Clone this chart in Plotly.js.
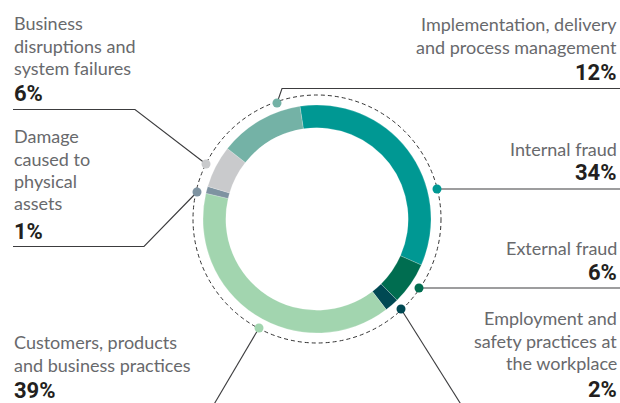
<!DOCTYPE html>
<html>
<head>
<meta charset="utf-8">
<script src="https://cdn.plot.ly/plotly-3.0.1.min.js"></script>
<style>html,body{margin:0;padding:0;background:#fff;}#chart{width:620px;height:403px;}</style>
</head>
<body>
<div id="chart"></div>
<script>
// ---- data ----
const categories = [
  'Internal fraud',
  'External fraud',
  'Employment and safety practices at the workplace',
  'Customers, products and business practices',
  'Damage caused to physical assets',
  'Business disruptions and system failures',
  'Implementation, delivery and process management'
];
const values = [34, 6, 2, 39, 1, 6, 12];
// label text as printed (one entry per printed line)
const labelLines = [
  ['Internal fraud'],
  ['External fraud'],
  ['Employment and', 'safety practices at', 'the workplace'],
  ['Customers, products', 'and business practices'],
  ['Damage', 'caused to', 'physical', 'assets'],
  ['Business', 'disruptions and', 'system failures'],
  ['Implementation, delivery', 'and process management']
];

// ---- styles / layout ----
const colors = ['#009893', '#006d50', '#004953', '#a2d5af', '#7e93a1', '#c9cacc', '#74b2a6'];
const W = 620, H = 403;
const px = x => x / W;
const py = y => 1 - y / H;
const cx = 317, cy = 219, R = 114, dashR = 124;

// label placement: side, baseline of first text line, percent baseline, dot, leader path
const place = [
  {side: 'right', b0: 155, pb: 180, dot: [437, 189], path: [[437, 189], [620, 189]]},
  {side: 'right', b0: 254, pb: 280, dot: [419, 288], path: [[419, 288], [620, 288]]},
  {side: 'right', b0: 324.5, pb: 397, dot: [401, 309], path: [[401, 309], [462, 406]]},
  {side: 'left', b0: 348.5, pb: 398, dot: [259, 328], path: [[259, 328], [213, 406]]},
  {side: 'left', b0: 142.7, pb: 239.5, dot: [197, 192], path: [[197, 192], [144, 246.5], [13, 246.5]]},
  {side: 'left', b0: 29.5, pb: 101, dot: [206, 164], path: [[206, 164], [135, 109.5], [13, 109.5]]},
  {side: 'right', b0: 30.7, pb: 80, dot: [277, 103], path: [[277, 103], [282, 88.5], [620, 88.5]]}
];
const lineStep = 22.3;
const capHalf = 6.3, pctHalf = 7.8;

const textFont = {family: 'Lato, "Open Sans", sans-serif', size: 18, color: '#68696c', weight: 400};
const pctFont = {family: 'Roboto, "DejaVu Sans Condensed", sans-serif', size: 22, color: '#231f20', weight: 700};

const shapes = [];
const annotations = [];

shapes.push({
  type: 'circle', xref: 'paper', yref: 'paper', layer: 'below',
  x0: px(cx - dashR), x1: px(cx + dashR), y0: py(cy + dashR), y1: py(cy - dashR),
  line: {color: '#333333', width: 1, dash: '4px,3px'}
});

place.forEach((p, i) => {
  const d = 'M ' + p.path.map(pt => px(pt[0]) + ',' + py(pt[1])).join(' L ');
  shapes.push({type: 'path', xref: 'paper', yref: 'paper', layer: 'above', path: d,
    line: {color: '#3c3c3e', width: 1.1}});
  const r = 4.5;
  shapes.push({type: 'circle', xref: 'paper', yref: 'paper', layer: 'above',
    x0: px(p.dot[0] - r), x1: px(p.dot[0] + r), y0: py(p.dot[1] + r), y1: py(p.dot[1] - r),
    fillcolor: colors[i], line: {width: 0}});
  const xa = p.side === 'left' ? px(12) : px(619);
  const anchor = p.side === 'left' ? 'left' : 'right';
  labelLines[i].forEach((ln, k) => {
    annotations.push({xref: 'paper', yref: 'paper', x: xa, y: py(p.b0 + k * lineStep - capHalf),
      xanchor: anchor, yanchor: 'middle', align: anchor, showarrow: false, text: ln, font: textFont});
  });
  annotations.push({xref: 'paper', yref: 'paper', x: xa, y: py(p.pb - pctHalf), xanchor: anchor, yanchor: 'middle',
    align: anchor, showarrow: false, text: '<b>' + values[i] + '%</b>', font: pctFont});
});

const trace = {
  type: 'pie',
  labels: categories,
  values: values,
  sort: false,
  direction: 'clockwise',
  rotation: -8.6,
  hole: 0.8,
  textinfo: 'none',
  hoverinfo: 'label+percent',
  marker: {colors: colors, line: {color: 'rgba(255,255,255,0.4)', width: 0.5}},
  domain: {x: [px(cx - R), px(cx + R)], y: [py(cy + R), py(cy - R)]},
  showlegend: false
};

Plotly.newPlot('chart', [trace], {
  width: W, height: H,
  margin: {l: 0, r: 0, t: 0, b: 0},
  paper_bgcolor: '#ffffff',
  showlegend: false,
  shapes: shapes,
  annotations: annotations
}, {staticPlot: true});
</script>
</body>
</html>
